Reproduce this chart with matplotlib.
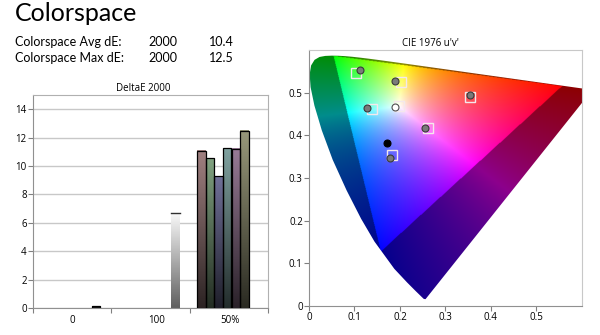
import numpy as np
import matplotlib.pyplot as plt
from matplotlib.colors import LinearSegmentedColormap
from matplotlib.path import Path
from matplotlib.patches import PathPatch

# --- data ---
groups = ['0', '100', '50%']
gray_values = [0.12, 6.66]
color_values = [11.07, 10.53, 9.27, 11.24, 11.21, 12.5]

avg_de = '10.4'
max_de = '12.5'

# spectral locus, CIE 1931 xy (380 nm ... 700 nm)
locus_x = [0.1741, 0.1733, 0.1714, 0.1644, 0.1566, 0.1440, 0.1241, 0.1096, 0.0913,
           0.0687, 0.0454, 0.0235, 0.0082, 0.0039, 0.0139, 0.0389, 0.0743, 0.1142,
           0.1547, 0.1929, 0.2296, 0.2658, 0.3016, 0.3373, 0.3731, 0.4087, 0.4441,
           0.4788, 0.5125, 0.5448, 0.5752, 0.6029, 0.6270, 0.6658, 0.6915, 0.7079,
           0.7190, 0.7260, 0.7347]
locus_y = [0.0050, 0.0048, 0.0051, 0.0109, 0.0177, 0.0297, 0.0578, 0.0868, 0.1327,
           0.2007, 0.2950, 0.4127, 0.5384, 0.6548, 0.7502, 0.8120, 0.8338, 0.8262,
           0.8059, 0.7816, 0.7543, 0.7243, 0.6923, 0.6589, 0.6245, 0.5896, 0.5547,
           0.5202, 0.4866, 0.4544, 0.4242, 0.3965, 0.3725, 0.3340, 0.3083, 0.2920,
           0.2809, 0.2740, 0.2653]

# gamut triangle drawn bright (u'v')
prim_u = [0.557, 0.054, 0.158]
prim_v = [0.516, 0.587, 0.128]
white_u, white_v = 0.1978, 0.4683

# measured points (u'v'): green, yellow, red, cyan, magenta, blue
meas_u = [0.113, 0.189, 0.355, 0.128, 0.256, 0.178]
meas_v = [0.552, 0.527, 0.494, 0.465, 0.417, 0.348]
# targets
targ_u = [0.1035, 0.202, 0.355, 0.138, 0.198, 0.261, 0.183]
targ_v = [0.547, 0.526, 0.491, 0.461, 0.468, 0.417, 0.354]
white_meas = (0.189, 0.467)
black_meas = (0.172, 0.382)

bar_tops = [(160, 128, 128), (128, 162, 128), (112, 112, 152),
            (128, 162, 160), (152, 122, 150), (152, 152, 122)]

plt.rcParams['font.family'] = ['Open Sans', 'DejaVu Sans']

fig = plt.figure(figsize=(6, 3.35), dpi=100)
W, H = 600, 335

# header
fig.text(15 / W, 1 - 21 / H, 'Colorspace', fontsize=18, family='Lato', va='baseline')
for i, (lab, val) in enumerate([('Colorspace Avg dE:', avg_de), ('Colorspace Max dE:', max_de)]):
    yb = 1 - (45.7 + 16 * i) / H
    fig.text(15 / W, yb, lab, fontsize=9, family='Lato', va='baseline')
    fig.text(148 / W, yb, '2000', fontsize=9, family='Lato', va='baseline')
    fig.text(209 / W, yb, val, fontsize=9, family='Lato', va='baseline')

# ---------- left: bar chart ----------
ax = fig.add_axes([33 / W, 27 / H, 235 / W, 213 / H])
grad = np.linspace(0, 1, 64).reshape(-1, 1)
bw = 0.106

def grad_bar(xc, h, top, bottom, edge='black', lw=0.9):
    cm = LinearSegmentedColormap.from_list('g', [bottom, top])
    ax.imshow(grad, extent=[xc - bw / 2, xc + bw / 2, 0, h], origin='lower',
              aspect='auto', cmap=cm, zorder=2, interpolation='bilinear')
    if edge:
        ax.bar(xc, h, width=bw, fill=False, edgecolor=edge, lw=lw, zorder=3)

grad_bar(0.80, gray_values[0], '#202020', '#101010')
grad_bar(1.82, gray_values[1], '#f8f8f8', '#606060', edge=None)
ax.plot([1.82 - bw / 2, 1.82 + bw / 2], [gray_values[1]] * 2, color='#303030', lw=1, zorder=3)
for j, (v, c) in enumerate(zip(color_values, bar_tops)):
    top = tuple(k / 255 for k in c)
    bottom = tuple(k / 255 * 0.28 for k in c)
    grad_bar(2.15 + j * 0.11, v, top, bottom)

ax.set_xlim(0, 3)
ax.set_ylim(0, 15)
ax.set_yticks(range(0, 15, 2))
ax.set_xticks([0, 1, 2, 3])
ax.set_xticklabels([])
ax.set_xticks([0.5, 1.58, 2.52], minor=True)
ax.set_xticklabels(groups, minor=True)
ax.tick_params(axis='x', which='minor', length=0, pad=5, labelsize=7)
ax.tick_params(axis='both', which='major', direction='out', length=3.5, color='#808080', labelsize=7, pad=1)
ax.grid(axis='y', color='#c8c8c8', lw=1, zorder=0)
ax.set_axisbelow(True)
for s in ax.spines.values():
    s.set_color('#b0b0b0')
ax.spines['left'].set_color('#909090')
ax.spines['bottom'].set_color('#909090')
fig.text(143 / W, 1 - 88 / H, 'DeltaE 2000', fontsize=7, ha='center', va='center')

# ---------- right: CIE u'v' ----------
ax2 = fig.add_axes([309 / W, 29 / H, 272.7 / W, 256 / H])

lx = np.array(locus_x)
ly = np.array(locus_y)
d = -2 * lx + 12 * ly + 3
lu, lv = 4 * lx / d, 9 * ly / d


def uv_to_xyz(u, v):
    den = 6 * u - 16 * v + 12
    x = 9 * u / den
    y = 4 * v / den
    return np.stack([x / y, np.ones_like(x), (1 - x - y) / y])

P = uv_to_xyz(np.array(prim_u), np.array(prim_v))
Wxyz = uv_to_xyz(np.array([white_u]), np.array([white_v]))[:, 0]
S = np.linalg.solve(P, Wxyz)
M = P * S
Minv = np.linalg.inv(M)

n = 500
uu, vv = np.meshgrid(np.linspace(0.0005, 0.6, n), np.linspace(0.0005, 0.6, n))
xyz = uv_to_xyz(uu.ravel(), vv.ravel())
rgb = (Minv @ xyz).T
outside = (rgb < 0).any(axis=1)
rgb = np.clip(rgb, 0, None)
rgb = rgb / rgb.max(axis=1, keepdims=True)
rgb = rgb ** 0.8
rgb[outside] *= 0.55
img = rgb.reshape(n, n, 3)

im = ax2.imshow(img, extent=[0, 0.6, 0, 0.6], origin='lower', aspect='auto', zorder=1)
poly = PathPatch(Path(np.column_stack([lu, lv])), facecolor='none', edgecolor='none',
                 transform=ax2.transData)
ax2.add_patch(poly)
im.set_clip_path(poly)

ax2.plot(targ_u, targ_v, 's', ms=6.5, mfc='none', mec='#f4e8ec', mew=1, zorder=3)
ax2.plot(meas_u, meas_v, 'o', ms=5, mfc='#7a7a7a', mec='#3a3a3a', mew=0.8, zorder=4)
ax2.plot(*white_meas, 'o', ms=5, mfc='white', mec='#505050', mew=0.8, zorder=4)
ax2.plot(*black_meas, 'o', ms=5, mfc='black', mec='black', mew=0.8, zorder=4)

ax2.set_xlim(0, 0.6)
ax2.set_ylim(0, 0.6)
ticks = [0, 0.1, 0.2, 0.3, 0.4, 0.5]
ax2.set_xticks(ticks)
ax2.set_xticklabels(['0', '0.1', '0.2', '0.3', '0.4', '0.5'])
ax2.set_yticks(ticks)
ax2.set_yticklabels(['0', '0.1', '0.2', '0.3', '0.4', '0.5'])
ax2.tick_params(direction='out', length=3.5, color='#808080', labelsize=7, pad=1)
for s in ax2.spines.values():
    s.set_color('#c8c8c8')
ax2.spines['left'].set_color('#909090')
ax2.spines['bottom'].set_color('#909090')
fig.text(430 / W, 1 - 44 / H, "CIE 1976 u'v'", fontsize=7, ha='center', va='center')

fig.savefig('out.png', dpi=100)
